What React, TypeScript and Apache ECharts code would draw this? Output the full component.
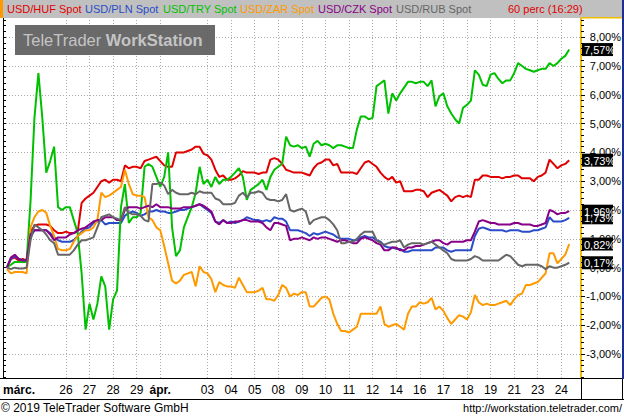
import React, { useEffect, useRef } from "react";
import * as echarts from "echarts";

const FONT = "'Liberation Sans', Arial, sans-serif";

const seriesNames = ["USD/HUF Spot", "USD/PLN Spot", "USD/TRY Spot", "USD/ZAR Spot", "USD/CZK Spot", "USD/RUB Spot"];
const seriesColors = ["#e00000", "#2a4cc8", "#00c000", "#ff9900", "#880088", "#666666"];
const intervalLabel = "60 perc (16:29)";

// x axis: trading days, 4-hour slots
const dayLabels = ["márc.", "26", "27", "28", "29", "ápr.", "02", "03", "04", "05", "08", "09", "10", "11", "12", "14", "16", "17", "18", "19", "21", "23", "24"];
const hiddenDays = ["02"];
const boldDays = ["márc.", "ápr."];
const firstDaySlots = 16;
const slotsPerDay = 6;

// % change, one value per 4-hour slot (starting at slot 1)
const huf = [0.0, 0.3, 0.35, 0.25, 0.3, 0.25, 1.25, 1.45, 1.5, 1.5, 1.5, 1.45, 1.3, 1.2, 1.2,
  1.25, 1.2, 1.2, 1.25, 2.25, 2.4, 2.5, 2.6, 2.8, 3.0, 3.05, 2.95, 3.05, 3.05, 3.0, 3.55, 3.45, 3.5, 3.5, 3.45,
  3.7, 3.75, 3.8, 3.85, 3.7, 3.55, 3.5, 3.5, 4.0, 4.0, 4.0, 4.05, 4.1, 4.2, 4.2, 3.95, 3.9, 3.75, 3.4, 3.15,
  3.2, 3.05, 3.05, 3.1, 3.2, 3.35, 3.3, 3.3, 3.3, 3.25, 3.3, 3.3, 3.75, 3.8, 3.75, 3.6, 3.4, 3.35, 3.3, 3.3,
  3.3, 3.25, 3.2, 3.45, 3.6, 3.65, 3.75, 3.75, 3.55, 3.6, 3.3, 3.3, 3.3, 3.3, 3.25, 3.45, 3.65, 3.7, 3.6, 3.5,
  3.3, 3.15, 3.05, 3.15, 2.95, 3.0, 2.65, 2.65, 2.65, 2.7, 2.7, 2.65, 2.45, 2.6, 2.65, 2.7, 2.6, 2.5, 2.3, 2.45,
  2.5, 2.45, 2.5, 2.45, 3.05, 3.05, 3.2, 3.2, 3.15, 3.15, 3.15, 3.1, 3.15, 3.15, 3.2, 3.2, 3.1, 3.1, 3.1, 3.0,
  3.15, 3.2, 3.3, 3.75, 3.6, 3.45, 3.55, 3.6, 3.73];
const pln = [0.0, 0.3, 0.4, 0.3, 0.25, 0.25, 1.05, 1.3, 1.3, 1.3, 1.3, 1.2, 1.05, 0.95, 0.9,
  0.9, 0.9, 0.95, 1.1, 1.25, 1.35, 1.4, 1.55, 1.6, 1.65, 1.5, 1.55, 1.55, 1.55, 1.55, 1.8, 1.9, 1.95, 1.9, 1.8,
  1.85, 1.95, 1.95, 2.0, 1.95, 1.95, 1.9, 1.9, 1.95, 2.0, 2.0, 2.05, 2.1, 2.15, 2.2, 2.1, 2.0, 1.9, 1.6, 1.55,
  1.65, 1.55, 1.6, 1.55, 1.6, 1.65, 1.75, 1.7, 1.65, 1.65, 1.6, 1.65, 1.6, 1.75, 1.7, 1.7, 1.6, 1.3, 1.3, 1.3,
  1.25, 1.2, 1.1, 1.2, 1.15, 1.2, 1.25, 1.2, 1.15, 1.05, 1.0, 1.0, 1.0, 0.95, 0.95, 1.05, 1.1, 1.05, 1.05, 0.95,
  0.9, 0.75, 0.7, 0.7, 0.65, 0.65, 0.55, 0.55, 0.6, 0.6, 0.6, 0.6, 0.6, 0.6, 0.7, 0.7, 0.7, 0.6, 0.55, 0.6,
  0.6, 0.6, 0.6, 0.6, 1.1, 1.35, 1.4, 1.35, 1.3, 1.3, 1.3, 1.3, 1.25, 1.3, 1.3, 1.3, 1.25, 1.25, 1.25, 1.3,
  1.3, 1.35, 1.4, 1.75, 1.6, 1.6, 1.6, 1.65, 1.73];
const tryx = [0.03, 0.1, 0.2, 0.2, 0.2, 0.2, 2.3, 5.2, 6.75, 5.2, 3.3, 3.7, 4.2, 2.1, 2.0,
  2.1, 2.1, 1.65, 1.2, -0.2, -2.15, -1.25, -1.8, -1.25, -0.3, -0.65, -2.15, -1.1, -0.8, 2.1, 2.9, 1.55, 1.75, 1.75, 1.9,
  3.5, 3.6, 3.5, 3.15, 2.8, 3.15, 4.0, 1.4, 0.4, 0.6, 1.4, 1.75, 2.1, 2.6, 3.5, 2.9, 3.05, 2.8, 3.15, 2.9,
  3.05, 3.05, 3.15, 3.3, 3.45, 3.15, 2.35, 2.7, 2.8, 2.9, 3.05, 2.7, 3.15, 3.4, 3.5, 3.6, 4.55, 4.25, 4.2, 4.25,
  4.15, 4.2, 3.85, 4.3, 4.4, 4.25, 4.3, 4.25, 4.15, 4.25, 4.25, 4.2, 4.15, 4.15, 4.8, 5.25, 5.25, 5.15, 5.2, 6.3,
  6.4, 6.5, 5.35, 6.05, 5.8, 6.05, 6.25, 6.45, 6.45, 6.4, 6.45, 6.45, 6.3, 6.5, 5.6, 5.95, 6.05, 5.6, 5.35, 5.15,
  5.0, 5.55, 5.65, 5.8, 6.85, 6.7, 6.35, 6.3, 6.7, 6.75, 6.55, 6.4, 6.5, 6.5, 6.75, 7.1, 7.0, 6.9, 6.85, 6.8,
  6.85, 6.9, 6.9, 7.1, 7.0, 7.1, 7.25, 7.35, 7.57];
const zar = [-0.05, -0.2, -0.15, -0.15, -0.15, -0.2, 1.4, 1.75, 1.95, 2.0, 1.9, 1.45, 1.1, 0.65, 0.6,
  0.6, 0.65, 0.9, 1.1, 1.2, 1.3, 1.3, 1.4, 1.65, 2.6, 2.45, 2.5, 2.6, 2.7, 2.8, 3.4, 2.9, 2.55, 2.5, 2.5,
  2.45, 1.75, 1.65, 1.4, 1.3, 0.75, 0.15, -0.45, -0.55, -0.45, -0.25, -0.2, -0.15, -0.65, 0.05, -0.15, -0.2, -0.4, -0.85, -0.5,
  -0.6, -0.65, -0.65, -0.7, -0.35, -0.6, -0.85, -0.85, -0.85, -0.8, -0.7, -1.1, -1.1, -1.15, -0.95, -0.6, -0.7, -1.0, -0.9, -0.95,
  -0.85, -0.85, -1.35, -1.35, -1.2, -1.05, -1.0, -1.1, -1.6, -1.95, -2.2, -2.2, -2.25, -2.15, -2.05, -1.6, -1.6, -1.6, -1.6, -1.6,
  -1.35, -1.95, -2.05, -2.0, -1.95, -2.05, -2.15, -1.6, -1.35, -1.35, -1.2, -1.25, -1.2, -1.05, -1.45, -1.35, -1.5, -1.75, -1.95, -1.8,
  -1.65, -1.7, -1.8, -1.55, -0.95, -1.2, -1.3, -1.25, -1.3, -1.3, -1.25, -1.2, -1.15, -1.3, -1.1, -0.95, -0.9, -0.6, -0.6, -0.55,
  -0.5, -0.35, -0.2, 0.5, 0.5, 0.15, 0.3, 0.45, 0.82];
const czk = [0.0, 0.35, 0.45, 0.3, 0.25, 0.25, 1.15, 1.3, 1.3, 1.3, 1.3, 1.15, 0.95, 1.05, 1.05,
  1.05, 1.15, 1.2, 1.3, 1.35, 1.4, 1.5, 1.6, 1.65, 1.65, 1.75, 1.75, 1.75, 1.65, 1.65, 2.0, 2.1, 2.1, 2.1, 2.05,
  2.1, 2.15, 2.1, 2.2, 2.1, 2.1, 2.1, 2.05, 2.05, 2.05, 2.1, 2.1, 2.1, 2.15, 2.2, 2.15, 2.05, 1.95, 1.6, 1.5,
  1.65, 1.55, 1.55, 1.6, 1.6, 1.65, 1.65, 1.6, 1.6, 1.6, 1.55, 1.4, 1.3, 1.55, 1.55, 1.5, 1.45, 0.95, 1.0, 1.0,
  1.05, 1.0, 0.95, 1.05, 1.0, 1.05, 1.05, 1.0, 0.95, 0.9, 0.95, 0.95, 0.9, 0.85, 0.85, 1.0, 1.05, 1.0, 0.95, 0.85,
  0.8, 0.6, 0.6, 0.7, 0.7, 0.6, 0.6, 0.7, 0.7, 0.75, 0.75, 0.8, 0.85, 0.9, 0.95, 0.95, 0.85, 0.8, 0.9, 0.9,
  0.9, 0.9, 0.95, 0.95, 1.25, 1.6, 1.65, 1.6, 1.55, 1.55, 1.5, 1.5, 1.5, 1.5, 1.55, 1.55, 1.5, 1.5, 1.5, 1.45,
  1.45, 1.5, 1.55, 2.0, 1.95, 1.85, 1.9, 1.9, 1.96];
const rub = [0.0, -0.05, 0.0, -0.03, -0.03, 0.0, 0.95, 1.5, 1.4, 1.3, 1.15, 0.95, 0.85, 0.45, 0.45,
  0.45, 0.45, 0.6, 0.8, 0.95, 0.95, 1.0, 1.05, 1.4, 1.75, 1.8, 1.85, 1.75, 1.7, 1.65, 2.1, 1.9, 1.85, 1.85, 1.8,
  1.65, 1.6, 2.9, 2.9, 2.95, 2.85, 2.55, 2.7, 2.6, 2.55, 2.55, 2.55, 2.6, 2.55, 2.65, 2.6, 2.6, 2.6, 2.4, 2.35,
  2.2, 2.2, 2.2, 2.25, 2.5, 2.6, 2.45, 2.6, 2.6, 2.65, 2.6, 2.4, 2.35, 2.35, 2.3, 2.35, 2.55, 2.0, 1.95, 2.0,
  2.05, 1.95, 1.5, 1.65, 1.7, 1.75, 1.75, 1.65, 1.5, 1.3, 0.85, 0.85, 0.9, 0.9, 1.0, 1.15, 1.25, 1.25, 1.25, 0.95,
  0.85, 0.8, 0.85, 0.9, 0.9, 0.95, 0.7, 0.8, 0.85, 0.85, 0.85, 0.8, 0.85, 0.9, 0.8, 0.7, 0.6, 0.5, 0.3, 0.25,
  0.25, 0.25, 0.25, 0.3, 0.4, 0.35, 0.25, 0.25, 0.25, 0.25, 0.25, 0.35, 0.45, 0.4, 0.25, 0.1, 0.05, 0.1, 0.1, 0.1,
  0.1, 0.05, -0.05, 0.05, 0.0, 0.0, 0.05, 0.1, 0.17];

const seriesValues = [huf, pln, tryx, zar, czk, rub];
const legendX = [7, 85, 163, 240, 318, 396];

const fmtPct = (v: number) => v.toFixed(2).replace(".", ",") + "%";

export default function App() {
  const ref = useRef<HTMLDivElement>(null);

  useEffect(() => {
    document.body.style.margin = "0";
    const chart = echarts.init(ref.current!, undefined, { renderer: "svg", width: 624, height: 417 });

    const categories: string[] = [];
    dayLabels.forEach((d, di) => {
      const n = di === 0 ? firstDaySlots : slotsPerDay;
      for (let k = 0; k < n; k++) categories.push(d + "|" + k);
    });
    const isDayStart = (val: string) => {
      const [d, k] = val.split("|");
      return k === "0" && !hiddenDays.includes(d);
    };

    const pad = (arr: number[]) => {
      const out: (number | null)[] = [null, ...arr];
      while (out.length < categories.length) out.push(null);
      return out;
    };

    const yMin = -3.83;
    const yMax = 8.7;

    const staticGraphics: any[] = [
      { type: "rect", shape: { x: 0, y: 0, width: 624, height: 18 }, style: { fill: "#c0c0c0" }, z: 90 },
      { type: "rect", shape: { x: 0, y: 0, width: 3, height: 18 }, style: { fill: "#ff9900" }, z: 91 },
      { type: "rect", shape: { x: 622, y: 0, width: 2, height: 379 }, style: { fill: "#1c2f8f" }, z: 91 },
      { type: "rect", shape: { x: 581, y: 17, width: 41, height: 1.5 }, style: { fill: "#f0c000" }, z: 91 },
      ...seriesNames.map((n, i) => ({
        type: "text", x: legendX[i], y: 9, z: 92,
        style: { text: n, fill: seriesColors[i], fontSize: 11, fontFamily: FONT, verticalAlign: "middle" },
      })),
      { type: "text", x: 508, y: 9, z: 92, style: { text: intervalLabel, fill: "#e00000", fontSize: 11, fontFamily: FONT, verticalAlign: "middle" } },
      { type: "rect", shape: { x: 15, y: 25, width: 200, height: 30 }, style: { fill: "rgba(95,95,95,0.93)" }, z: 80 },
      {
        type: "text", x: 23, y: 40, z: 81,
        style: {
          text: "{a|TeleTrader }{b|WorkStation}", verticalAlign: "middle",
          rich: {
            a: { fontSize: 16.5, fontFamily: FONT, fill: "#c4c4c4", color: "#c4c4c4" },
            b: { fontSize: 16.5, fontFamily: FONT, fontWeight: "bold", fill: "#c4c4c4", color: "#c4c4c4" },
          },
        },
      },
      { type: "rect", shape: { x: 0, y: 378, width: 624, height: 1 }, style: { fill: "#000" }, z: 90 },
      { type: "rect", shape: { x: 0, y: 399, width: 624, height: 1 }, style: { fill: "#000" }, z: 90 },
      { type: "rect", shape: { x: 581, y: 378, width: 1, height: 22 }, style: { fill: "#000" }, z: 90 },
      { type: "rect", shape: { x: 622, y: 378, width: 1, height: 22 }, style: { fill: "#000" }, z: 90 },
      { type: "text", x: 1, y: 408, z: 90, style: { text: "© 2019 TeleTrader Software GmbH", fill: "#000", fontSize: 12, fontFamily: FONT, verticalAlign: "middle" } },
      { type: "text", x: 622, y: 408, z: 90, style: { text: "http://workstation.teletrader.com/", fill: "#000", fontSize: 11, fontFamily: FONT, verticalAlign: "middle", align: "right" } },
    ];

    const option: any = {
      animation: false,
      backgroundColor: "#fff",
      grid: { left: 1, right: 43, top: 17, bottom: 39, containLabel: false },
      xAxis: {
        type: "category",
        data: categories,
        boundaryGap: false,
        axisLine: { show: true, onZero: false, lineStyle: { color: "#000", width: 1 } },
        axisTick: { show: false },
        axisLabel: {
          interval: (_i: number, val: string) => isDayStart(val),
          formatter: (val: string) => {
            const d = val.split("|")[0];
            return boldDays.includes(d) ? "{b|" + d + "}" : d;
          },
          color: "#000",
          fontSize: 12,
          fontFamily: FONT,
          margin: 6,
          alignMinLabel: "left",
          rich: { b: { fontWeight: "bold", fontSize: 12, fontFamily: FONT, color: "#000" } },
        },
        splitLine: {
          show: true,
          interval: (i: number, val: string) => i > 0 && isDayStart(val),
          lineStyle: { color: "#aaaaaa", type: [1, 2], width: 1 },
        },
      },
      yAxis: [
        {
          type: "value",
          position: "right",
          min: yMin,
          max: yMax,
          splitNumber: 12,
          axisLine: { show: true, onZero: false, lineStyle: { color: "#f0c000", width: 2 } },
          axisTick: { show: true, length: 4, lineStyle: { color: "#000" } },
          minorTick: { show: true, splitNumber: 5, length: 3, lineStyle: { color: "#000" } },
          axisLabel: {
            formatter: (v: number) => fmtPct(v),
            color: "#000",
            fontSize: 11,
            fontFamily: FONT,
            align: "right",
            margin: 40,
            showMinLabel: false,
            showMaxLabel: false,
          },
          splitLine: { show: true, lineStyle: { color: "#aaaaaa", type: [1, 2], width: 1 } },
        },
        {
          type: "value",
          position: "left",
          min: yMin,
          max: yMax,
          splitNumber: 12,
          axisLine: { show: true, onZero: false, lineStyle: { color: "#000", width: 1 } },
          axisTick: { show: true, inside: true, length: 3, lineStyle: { color: "#000" } },
          minorTick: { show: true, splitNumber: 5, length: 3, lineStyle: { color: "#000" } },
          axisLabel: { show: false },
          splitLine: { show: false },
        },
      ],
      series: seriesNames.map((n, i) => ({
        name: n,
        type: "line",
        data: pad(seriesValues[i]),
        yAxisIndex: 0,
        showSymbol: false,
        symbol: "none",
        silent: true,
        lineStyle: { color: seriesColors[i], width: 2 },
        itemStyle: { color: seriesColors[i] },
      })),
      graphic: staticGraphics,
    };

    chart.setOption(option);

    const boxes: any[] = [];
    seriesValues.forEach((arr) => {
      const v = arr[arr.length - 1];
      const py = chart.convertToPixel({ yAxisIndex: 0 }, v) as number;
      boxes.push({ type: "rect", shape: { x: 582, y: py - 6.5, width: 31, height: 13 }, style: { fill: "#000" }, z: 100 });
      boxes.push({
        type: "text", x: 584, y: py + 0.5, z: 101,
        style: { text: fmtPct(v), fill: "#fff", fontSize: 11, fontFamily: FONT, verticalAlign: "middle" },
      });
    });
    chart.setOption({ graphic: [...staticGraphics, ...boxes] });

    return () => chart.dispose();
  }, []);

  return <div ref={ref} style={{ position: "absolute", left: 0, top: 0, width: 624, height: 417, background: "#fff" }} />;
}
